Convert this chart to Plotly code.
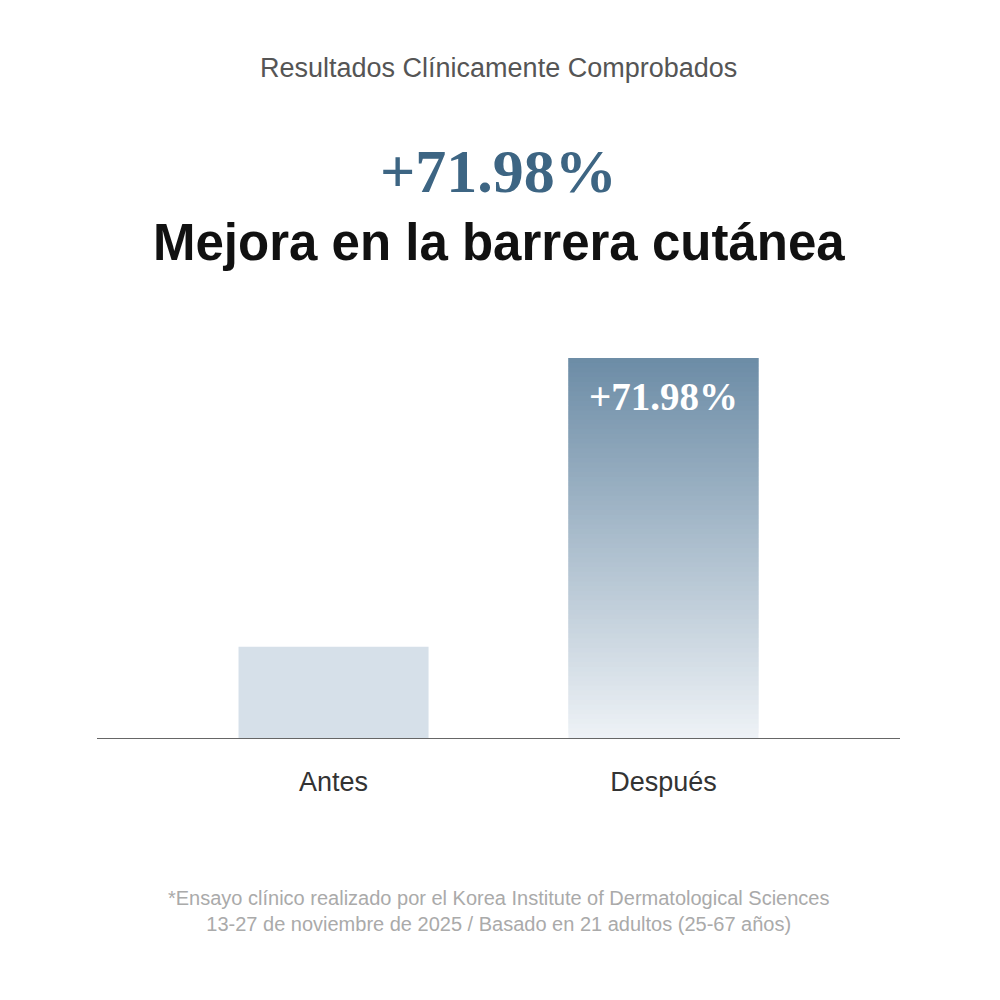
import plotly.graph_objects as go

categories = ["Antes", "Después"]
values = [24, 100]
bar_label = "+71.98%"
title_top = "Resultados Clínicamente Comprobados"
headline = "+71.98%"
subtitle = "Mejora en la barrera cutánea"
footnote = "*Ensayo clínico realizado por el Korea Institute of Dermatological Sciences<br>13-27 de noviembre de 2025 / Basado en 21 adultos (25-67 años)"

def lerp(c1, c2, t):
    return "rgb(%d,%d,%d)" % tuple(round(a + (b - a) * t) for a, b in zip(c1, c2))

top_c = (108, 140, 166)
bot_c = (238, 242, 246)

fig = go.Figure()
fig.add_bar(x=[categories[0]], y=[values[0]], width=0.576,
            marker=dict(color="#d6e0e9", line_width=0), hoverinfo="skip")
N = 80
v = values[1]
seg = v / N
for i in range(N):
    t = (i + 0.5) / N
    h = seg * 2 if i < N - 1 else seg
    fig.add_bar(x=[categories[1]], y=[h], base=[seg * i], width=0.576,
                marker=dict(color=lerp(bot_c, top_c, t), line_width=0), hoverinfo="skip")

fig.update_layout(
    width=1000, height=1000, barmode="overlay", showlegend=False,
    paper_bgcolor="white", plot_bgcolor="white",
    margin=dict(l=89, r=108, t=350, b=270),
    xaxis=dict(range=[-0.717, 1.717], showgrid=False, showline=True, linecolor="#666",
               linewidth=1, ticks="", ticklabelstandoff=20,
               tickfont=dict(family="Liberation Sans, Arial", size=27, color="#333")),
    yaxis=dict(range=[0, 100], visible=False, showgrid=False),
    annotations=[
        dict(text=title_top, x=0.5, y=1.808, xref="paper", yref="paper", showarrow=False,
             font=dict(family="Liberation Sans, Arial", size=27, color="#555")),
        dict(text="<b>" + headline + "</b>", x=0.5, y=1.587, xref="paper", yref="paper", showarrow=False,
             font=dict(family="Liberation Serif, DejaVu Serif", size=62, color="#3d6583")),
        dict(text="<b>" + subtitle + "</b>", x=0.5, y=1.384, xref="paper", yref="paper", showarrow=False,
             font=dict(family="Liberation Sans, Arial", size=51, color="#111")),
        dict(text="<b>" + bar_label + "</b>", x=categories[1], y=values[1], yshift=-38, showarrow=False,
             font=dict(family="Liberation Serif, DejaVu Serif", size=39, color="white")),
        dict(text=footnote, x=0.5, y=-0.524, xref="paper", yref="paper", showarrow=False,
             font=dict(family="Liberation Sans, Arial", size=20, color="#aaa")),
    ],
)
fig.write_html("out.html")
